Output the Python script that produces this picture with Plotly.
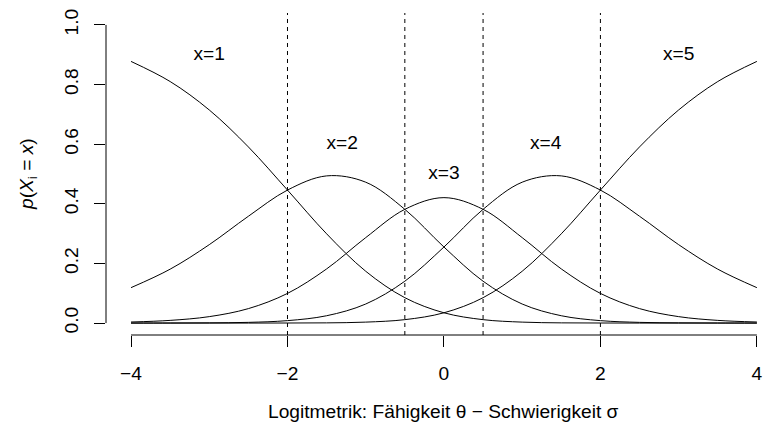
import plotly.graph_objects as go

theta = [-4, -3.5, -3, -2.5, -2, -1.5, -1, -0.5, 0, 0.5, 1, 1.5, 2, 2.5, 3, 3.5, 4]
p1 = [0.8776, 0.8101, 0.7148, 0.5908, 0.4461, 0.2994, 0.1738, 0.0851, 0.0345, 0.0115, 0.0032, 0.0007, 0.0002, 0.0000, 0.0000, 0.0000, 0.0000]
p2 = [0.1188, 0.1808, 0.2630, 0.3583, 0.4461, 0.4937, 0.4725, 0.3815, 0.2551, 0.1404, 0.0639, 0.0246, 0.0082, 0.0024, 0.0007, 0.0002, 0.0000]
p3 = [0.0036, 0.0090, 0.0216, 0.0485, 0.0995, 0.1816, 0.2866, 0.3815, 0.4207, 0.3815, 0.2866, 0.1816, 0.0995, 0.0485, 0.0216, 0.0090, 0.0036]
p4 = [0.0000, 0.0002, 0.0007, 0.0024, 0.0082, 0.0246, 0.0639, 0.1404, 0.2551, 0.3815, 0.4725, 0.4937, 0.4461, 0.3583, 0.2630, 0.1808, 0.1188]
p5 = [0.0000, 0.0000, 0.0000, 0.0000, 0.0002, 0.0007, 0.0032, 0.0115, 0.0345, 0.0851, 0.1738, 0.2994, 0.4461, 0.5908, 0.7148, 0.8101, 0.8776]
series = [p1, p2, p3, p4, p5]

thresholds = [-2, -0.5, 0.5, 2]
label_text = ["x=1", "x=2", "x=3", "x=4", "x=5"]
label_x = [-3.0, -1.3, 0.0, 1.3, 3.0]
label_y = [0.9, 0.6, 0.5, 0.6, 0.9]

x_ticks = [-4, -2, 0, 2, 4]
y_ticks = [0.0, 0.2, 0.4, 0.6, 0.8, 1.0]
y_ticktext = ["0.0", "0.2", "0.4", "0.6", "0.8", "1.0"]

FONT = "Liberation Sans, Arial, Helvetica, sans-serif"
FS = 19.2

fig = go.Figure()
for s in series:
    fig.add_trace(go.Scatter(x=theta, y=s, mode="lines", line=dict(color="black", width=1, shape="spline"),
                             showlegend=False, hoverinfo="skip"))

fig.add_trace(go.Scatter(x=label_x, y=label_y, mode="text", text=label_text,
                         textfont=dict(family=FONT, size=FS, color="black"), showlegend=False,
                         hoverinfo="skip"))

shapes = []
for t in thresholds:
    shapes.append(dict(type="line", xref="x", yref="paper", x0=t, x1=t, y0=0, y1=1,
                       line=dict(color="black", width=1, dash="4px,4px")))
# axis lines (R style: only span tick range)
shapes.append(dict(type="line", xref="x", yref="paper", x0=min(x_ticks), x1=max(x_ticks), y0=0, y1=0,
                   line=dict(color="black", width=1)))
shapes.append(dict(type="line", xref="paper", yref="y", x0=0, x1=0, y0=min(y_ticks), y1=max(y_ticks),
                   line=dict(color="black", width=1)))

annotations = [
    dict(text="<i>p</i>(<i>X</i><sub>i</sub> = <i>x</i>)", xref="paper", yref="y", x=0, y=0.5,
         xshift=-78, xanchor="center", yanchor="middle", textangle=-90, showarrow=False,
         font=dict(family=FONT, size=FS, color="black")),
    dict(text="Logitmetrik: Fähigkeit θ − Schwierigkeit σ", xref="x", yref="paper", x=0, y=0,
         yshift=-76, xanchor="center", yanchor="middle", showarrow=False,
         font=dict(family=FONT, size=FS, color="black")),
]

fig.update_layout(
    width=763, height=425,
    margin=dict(l=106, r=0, t=13, b=90),
    plot_bgcolor="white", paper_bgcolor="white",
    shapes=shapes, annotations=annotations,
    font=dict(family=FONT, size=FS, color="black"),
    xaxis=dict(range=[-4.32, 4.04], tickvals=x_ticks, ticks="outside", ticklen=11, tickwidth=1,
               tickcolor="black", showline=False, showgrid=False, zeroline=False,
               ticklabelstandoff=10, ticklabeloverflow="allow",
               tickfont=dict(family=FONT, size=FS, color="black")),
    yaxis=dict(range=[-0.04, 1.04], tickvals=y_ticks, ticktext=y_ticktext, ticks="outside", ticklen=11,
               tickwidth=1, tickcolor="black", showline=False, showgrid=False, zeroline=False,
               tickangle=-90, ticklabelstandoff=8, tickfont=dict(family=FONT, size=FS, color="black")),
)

fig.write_html("out.html")
